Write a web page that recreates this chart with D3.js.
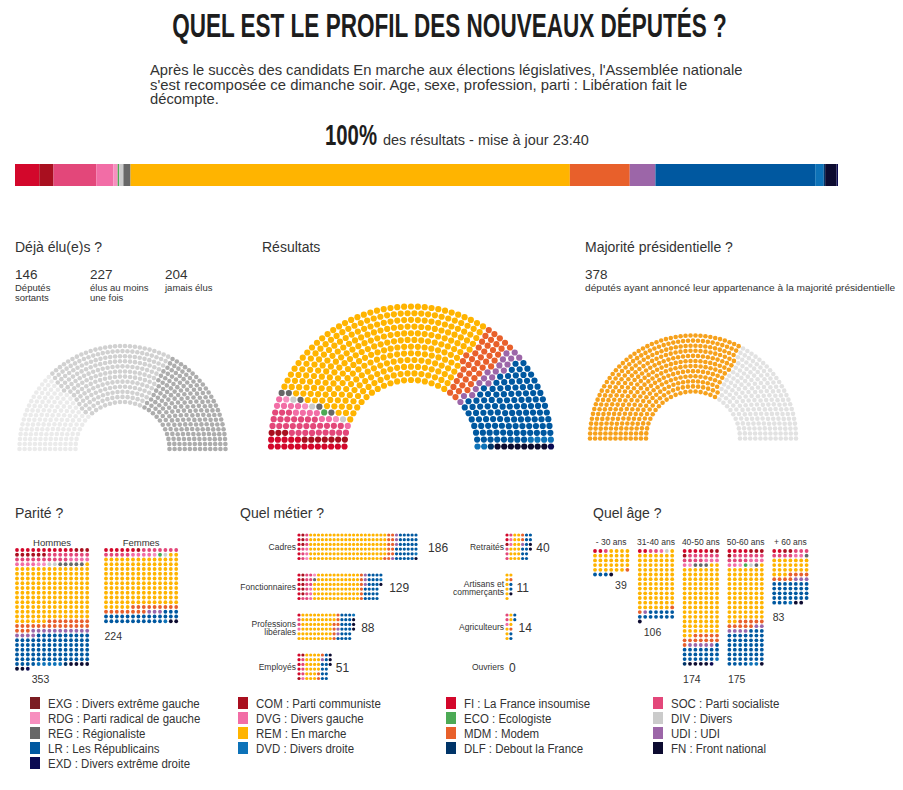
<!DOCTYPE html>
<html lang="fr">
  <head>
    <meta charset="utf-8">
    <title>Quel est le profil des nouveaux députés ?</title>
    <script src="https://cdn.jsdelivr.net/npm/d3@7"></script>
    <style type="text/css">
      html, body {
        margin: 0; padding: 0;
        background: #fff;
      }
      svg text {
        font-family: "Liberation Sans", Arial, sans-serif;
      }
    </style>
  </head>

  <body>
    <script type="text/javascript">

      // Partis, dans l'ordre de la légende
      var legendCodes  = ["EXG", "COM", "FI", "SOC", "RDG", "DVG", "ECO", "DIV", "REG", "REM", "MDM", "UDI", "LR", "DVD", "DLF", "FN", "EXD"];
      var legendNames  = ["Divers extrême gauche", "Parti communiste", "La France insoumise", "Parti socialiste",
                          "Parti radical de gauche", "Divers gauche", "Ecologiste", "Divers",
                          "Régionaliste", "En marche", "Modem", "UDI",
                          "Les Républicains", "Divers droite", "Debout la France", "Front national",
                          "Divers extrême droite"];
      var legendColors = ["#7b1c22", "#a90f1f", "#d3072b", "#e3477a", "#f78fbf", "#f26da6", "#4caa55", "#cbcbcb",
                          "#676767", "#ffb400", "#e8602b", "#9c66a8", "#0058a0", "#0d72b8", "#003468", "#0c0b30",
                          "#0b0a52"];

      // Ordre gauche -> droite dans l'hémicycle
      var seatCodes  = ["FI", "COM", "SOC", "DVG", "RDG", "ECO", "DIV", "REG", "REM", "MDM", "UDI", "LR", "DVD", "DLF", "FN", "EXD"];
      var seatCounts = [17, 10, 30, 12, 3, 1, 3, 5, 308, 42, 18, 112, 6, 1, 8, 1];

      // Déjà élu(e)s ?
      var electedLabels = [["Députés", "sortants"], ["élus au moins", "une fois"], ["jamais élus"]];
      var electedCounts = [146, 227, 204];
      var electedColors = ["#ebebeb", "#d1d1d1", "#adadad"];

      // Majorité présidentielle ?
      var majorityLabel  = "députés ayant annoncé leur appartenance à la majorité présidentielle";
      var majorityCounts = [378, 199];
      var majorityColors = ["#f6a11c", "#e2e2e2"];

      // Parité ? (même ordre que seatCodes)
      var genderLabels = ["Hommes", "Femmes"];
      var menCounts    = [11, 9, 18, 8, 2, 0, 2, 5, 161, 25, 15, 84, 5, 1, 6, 1];
      var womenCounts  = [6, 1, 12, 4, 1, 1, 1, 0, 147, 17, 3, 28, 1, 0, 2, 0];

      // Quel âge ?
      var ageLabels  = ["- 30 ans", "31-40 ans", "40-50 ans", "50-60 ans", "+ 60 ans"];
      var ageUnder30 = [2, 0, 1, 0, 0, 0, 0, 0, 31, 1, 0, 3, 0, 0, 1, 0];
      var age31to40  = [2, 0, 2, 1, 0, 0, 1, 0, 84, 2, 1, 12, 0, 0, 1, 0];
      var age40to50  = [5, 3, 10, 4, 1, 0, 0, 3, 102, 13, 5, 21, 1, 1, 4, 1];
      var age50to60  = [4, 4, 10, 5, 1, 1, 1, 1, 80, 10, 6, 49, 2, 0, 1, 0];
      var ageOver60  = [2, 2, 7, 2, 0, 0, 0, 1, 24, 8, 3, 31, 1, 0, 2, 0];

      // Quel métier ?
      var jobLabels = [["Cadres"], ["Fonctionnaires"], ["Professions", "libérales"], ["Employés"],
                       ["Retraités"], ["Artisans et", "commerçants"], ["Agriculteurs"], ["Ouvriers"]];
      var jobCadres       = [6, 3, 6, 2, 1, 0, 0, 0, 119, 12, 4, 31, 1, 0, 1, 0];
      var jobFonction     = [6, 5, 10, 3, 1, 0, 0, 1, 70, 6, 3, 22, 1, 0, 1, 0];
      var jobLiberales    = [1, 0, 2, 1, 0, 0, 0, 0, 52, 7, 2, 19, 1, 0, 3, 0];
      var jobEmployes     = [5, 2, 4, 1, 0, 0, 0, 0, 22, 3, 1, 10, 0, 0, 3, 0];
      var jobRetraites    = [2, 1, 4, 2, 0, 0, 0, 0, 15, 2, 1, 11, 0, 0, 2, 0];
      var jobArtisans     = [0, 0, 0, 0, 0, 0, 0, 0, 7, 1, 0, 2, 0, 0, 1, 0];
      var jobAgriculteurs = [0, 0, 2, 1, 0, 0, 0, 0, 6, 1, 0, 4, 0, 0, 0, 0];
      var jobOuvriers     = [0, 0, 0, 0, 0, 0, 0, 0, 0, 0, 0, 0, 0, 0, 0, 0];

      var introLines = ["Après le succès des candidats En marche aux élections législatives, l'Assemblée nationale",
                        "s'est recomposée ce dimanche soir. Age, sexe, profession, parti : Libération fait le",
                        "décompte."];

      var partyColor = d3.scaleOrdinal().domain(legendCodes).range(legendColors);
      var totalSeats = d3.sum(seatCounts);

      var svg = d3.select("body").append("svg")
                  .attr("width", 903)
                  .attr("height", 790);

      // one code per seat, in order
      function expand(codes, counts) {
        return codes.flatMap(function(c, i) {
          return d3.range(counts[i]).map(function() { return c; });
        });
      }

      // opts.fit: squeeze horizontally to this width; opts.squeeze: fixed horizontal factor
      function label(g, x, y, txt, size, opts) {
        opts = opts || {};
        var t = g.append("text")
                 .attr("fill", opts.fill || "#333")
                 .attr("text-anchor", opts.anchor || "start")
                 .style("font-size", size + "px")
                 .text(txt);
        if (opts.bold) t.style("font-weight", "bold");
        var k = opts.squeeze || 1;
        if (opts.fit) k = opts.fit / t.node().getComputedTextLength();
        t.attr("transform", "translate(" + x + "," + y + ") scale(" + k + ",1)");
        return t;
      }

      // ---- Header
      label(svg, 449.5, 37, "QUEL EST LE PROFIL DES NOUVEAUX DÉPUTÉS ?", 34,
            {anchor: "middle", bold: true, fill: "#1d1d1d", fit: 555});

      var introFit = [593, 538, 69];
      introLines.forEach(function(line, i) {
        label(svg, 150, 75 + i * 14.5, line, 14, {fill: "#333", fit: introFit[i]});
      });

      label(svg, 325, 145, "100%", 29, {bold: true, fill: "#1d1d1d", fit: 52});
      label(svg, 383, 145, "des résultats - mise à jour 23:40", 14, {fill: "#333", fit: 206});

      // ---- Stacked result bar
      var barX = d3.scaleLinear().domain([0, totalSeats]).range([15, 838]);
      var barEnds = d3.cumsum(seatCounts);
      svg.append("g").selectAll("rect")
         .data(seatCodes)
         .enter()
         .append("rect")
         .attr("x", function(d, i) { return barX(barEnds[i] - seatCounts[i]); })
         .attr("width", function(d, i) { return barX(barEnds[i]) - barX(barEnds[i] - seatCounts[i]); })
         .attr("y", 164)
         .attr("height", 22)
         .attr("fill", function(d) { return partyColor(d); });

      // ---- Hemicycle: seats by row, sorted by angle (left to right)
      function hemicycle(g, codes, counts, color, o) {
        var n = d3.sum(counts);
        var rowR = d3.scaleLinear().domain([0, o.rows - 1]).range([o.rIn, o.rOut]);
        var radii = d3.range(o.rows).map(rowR);
        var sumR = d3.sum(radii);
        var perRow = radii.map(function(r) { return Math.round(n * r / sumR); });
        var diff = n - d3.sum(perRow), k = o.rows - 1;
        while (diff !== 0) {
          perRow[k] += Math.sign(diff);
          diff -= Math.sign(diff);
          k = (k - 1 + o.rows) % o.rows;
        }
        var seats = [];
        radii.forEach(function(r, ri) {
          var angle = d3.scaleLinear().domain([0, perRow[ri] - 1]).range([Math.PI, 0]);
          d3.range(perRow[ri]).forEach(function(j) {
            seats.push({r: r, a: angle(j)});
          });
        });
        seats.sort(function(p, q) { return (q.a - p.a) || (p.r - q.r); });
        var who = expand(codes, counts);
        seats.forEach(function(s, i) { s.code = who[i]; });

        g.selectAll("circle")
         .data(seats)
         .enter()
         .append("circle")
         .attr("cx", function(d) { return o.cx + d.r * Math.cos(d.a); })
         .attr("cy", function(d) { return o.cy - d.r * Math.sin(d.a); })
         .attr("r", o.dot)
         .attr("fill", function(d) { return color(d.code); });
      }

      // Déjà élu(e)s ?
      var electedG = svg.append("g");
      label(electedG, 15, 252, "Déjà élu(e)s ?", 14);
      var electedX = [15, 90, 165];
      electedCounts.forEach(function(v, i) {
        label(electedG, electedX[i], 279, v, 13.5);
        electedLabels[i].forEach(function(l, j) {
          label(electedG, electedX[i], 291 + j * 9.5, l, 9.5);
        });
      });
      var electedColor = d3.scaleOrdinal().domain(d3.range(3)).range(electedColors);
      hemicycle(electedG.append("g"), d3.range(3), electedCounts, electedColor,
                {cx: 122.5, cy: 449, rIn: 47, rOut: 103, rows: 12, dot: 2.3});

      // Résultats
      var resultG = svg.append("g");
      label(resultG, 262, 252, "Résultats", 14);
      hemicycle(resultG.append("g"), seatCodes, seatCounts, partyColor,
                {cx: 411, cy: 446.5, rIn: 66.5, rOut: 140, rows: 12, dot: 3.1});

      // Majorité présidentielle ?
      var majG = svg.append("g");
      label(majG, 585, 252, "Majorité présidentielle ?", 14);
      label(majG, 585, 279, majorityCounts[0], 13.5);
      label(majG, 585, 291, majorityLabel, 9.3, {fit: 310});
      var majColor = d3.scaleOrdinal().domain(d3.range(2)).range(majorityColors);
      hemicycle(majG.append("g"), d3.range(2), majorityCounts, majColor,
                {cx: 693, cy: 438.5, rIn: 47, rOut: 103, rows: 12, dot: 2.3});

      // ---- Waffles
      // byRow: fill rows of `cols` dots; otherwise fill columns of `rows` dots
      function waffle(g, counts, o) {
        var cells = expand(seatCodes, counts);
        var x = d3.scaleLinear().domain([0, 1]).range([o.x, o.x + o.dx]);
        var y = d3.scaleLinear().domain([0, 1]).range([o.y, o.y + o.dy]);
        g.selectAll("circle")
         .data(cells)
         .enter()
         .append("circle")
         .attr("cx", function(d, i) { return x(o.byRow ? i % o.cols : Math.floor(i / o.rows)); })
         .attr("cy", function(d, i) { return y(o.byRow ? Math.floor(i / o.cols) : i % o.rows); })
         .attr("r", o.dot)
         .attr("fill", function(d) { return partyColor(d); });
        return {x: x, y: y};
      }

      // count placed where the next dot would go
      function countLabel(g, n, sc, cols) {
        var col = n % cols, row = Math.floor(n / cols);
        if (col > cols - 3) { col = 0; row += 1; }
        label(g, sc.x(col) - 1.5, sc.y(row) + 14, n, 10.5);
      }

      // Parité ?
      var parG = svg.append("g");
      label(parG, 15, 518, "Parité ?", 14);
      [menCounts, womenCounts].forEach(function(counts, i) {
        var x0 = 17 + i * 89;
        var sc = waffle(parG.append("g"), counts,
                        {x: x0, y: 550, dx: 5.4, dy: 4.75, cols: 14, byRow: true, dot: 1.9});
        label(parG, (sc.x(0) + sc.x(13)) / 2, 546, genderLabels[i], 9.5, {anchor: "middle"});
        countLabel(parG, d3.sum(counts), sc, 14);
      });

      // Quel âge ?
      var ageG = svg.append("g");
      label(ageG, 593, 518, "Quel âge ?", 14);
      [ageUnder30, age31to40, age40to50, age50to60, ageOver60].forEach(function(counts, i) {
        var x0 = 595 + i * 44.8;
        var sc = waffle(ageG.append("g"), counts,
                        {x: x0, y: 551, dx: 5.4, dy: 4.7, cols: 7, byRow: true, dot: 1.9});
        label(ageG, (sc.x(0) + sc.x(6)) / 2, 545, ageLabels[i], 8.5, {anchor: "middle"});
        countLabel(ageG, d3.sum(counts), sc, 7);
      });

      // Quel métier ?
      var jobG = svg.append("g");
      label(jobG, 240, 518, "Quel métier ?", 14);
      [jobCadres, jobFonction, jobLiberales, jobEmployes,
       jobRetraites, jobArtisans, jobAgriculteurs, jobOuvriers].forEach(function(counts, i) {
        var x0 = i < 4 ? 299 : 507;
        var y0 = 535 + (i % 4) * 40;
        var n = d3.sum(counts);
        var sc = waffle(jobG.append("g"), counts,
                        {x: x0, y: y0, dx: 3.9, dy: 4.7, rows: 6, byRow: false, dot: 1.6});
        var mid = (sc.y(0) + sc.y(5)) / 2;
        var lines = jobLabels[i];
        lines.forEach(function(l, j) {
          var base = lines.length === 1 ? mid + 3 : mid + j * 8.5;
          label(jobG, x0 - 3, base, l, 8.5, {anchor: "end"});
        });
        var perDot = d3.scaleLinear().domain([0, 6]).range([x0 + 2, x0 + 6.1]);
        label(jobG, perDot(n), mid + 5, n, 12);
      });

      // ---- Legend
      var legendG = svg.append("g");
      legendCodes.forEach(function(code, i) {
        var colX = [30, 238, 446, 653][i % 4];
        var rowY = 703 + Math.floor(i / 4) * 15;
        legendG.append("rect")
               .attr("x", colX).attr("y", rowY - 6)
               .attr("width", 10).attr("height", 12)
               .attr("fill", partyColor(code));
        label(legendG, colX + 18, rowY + 4.5, code + " : " + legendNames[i], 13.5, {fill: "#333", squeeze: 0.85});
      });

    </script>
  </body>
</html>
